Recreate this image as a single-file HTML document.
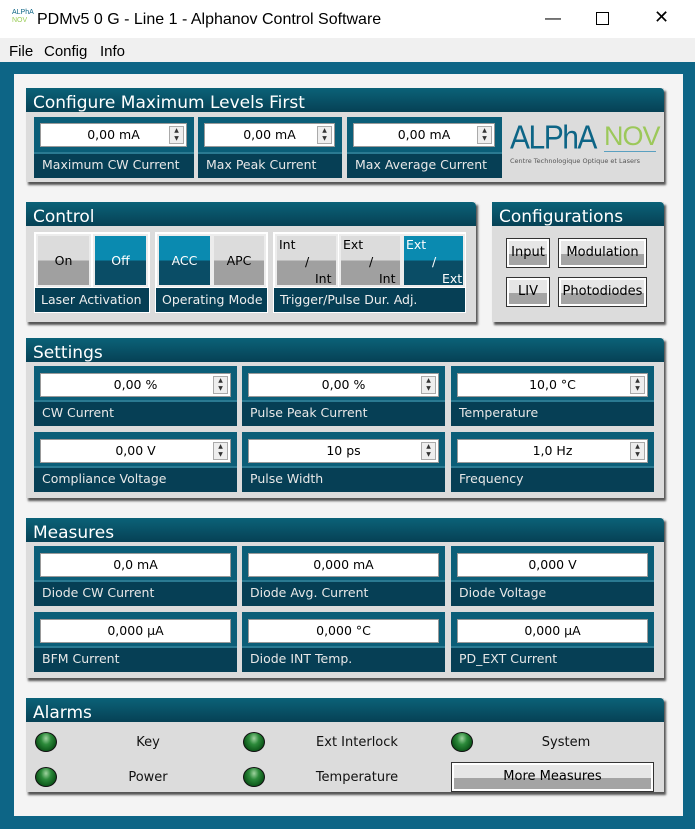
<!DOCTYPE html>
<html><head><meta charset="utf-8"><style>
*{box-sizing:border-box;margin:0;padding:0}
body{width:695px;height:829px;position:relative;overflow:hidden;background:#fff;font-family:"DejaVu Sans","Liberation Sans",sans-serif;}
.a{position:absolute}
.tb{left:0;top:0;width:695px;height:38px;background:#fff;font-family:"Liberation Sans",sans-serif;font-size:16px}
.menu{left:0;top:38px;width:695px;height:24px;background:#f0f0f0;font-family:"Liberation Sans",sans-serif;font-size:15px}
.frame{left:0;top:62px;width:695px;height:767px;background:#0d6586}
.inner{left:14px;top:74px;width:669px;height:742px;background:#f4f4f4}
.hd{background:linear-gradient(#0b6278,#064155);color:#fff;font-size:17px;padding-left:7px;line-height:30px;border-radius:0 4px 0 0;overflow:hidden}
.bd{background:#dcdcdc;box-shadow:2px 3px 2px #555}
.cell{background:#0b5e78;}
.cell .lb{position:absolute;left:0;right:0;bottom:0;height:26px;background:#063f55;color:#e8e8e8;font-size:12.5px;line-height:22px;padding-left:8px;border-top:2px solid #2a7a92}
.inp{position:absolute;background:#fff;border:1px solid #999;font-size:12.5px;text-align:center;line-height:22px;color:#000}
.spin{position:absolute;right:2px;top:2px;width:15px;height:18px;border:1px solid #aaa;background:#eee;font-size:6px;line-height:8px;text-align:center;color:#333}
.btn{position:absolute;font-size:12.5px;color:#000;text-align:center}
.g{background:linear-gradient(#dcdcdc 50%,#a0a0a0 50%);border:2px solid #ececec}
.b{background:linear-gradient(#0a8ab0 50%,#0a4d66 50%);border:2px solid #ececec;color:#fff}
.grp{position:absolute;background:#fff}
.cb{position:absolute;border:1px solid #333;background:#fff;padding:2px}
.cb div{width:100%;height:100%;background:linear-gradient(#e6e6e6 55%,#a4a4a4 55%);font-size:13px;text-align:center;line-height:24px}
.led{position:absolute;width:22px;height:20px;border-radius:50%;background:radial-gradient(ellipse at 50% 30%,#9fd39f 0,#2c8a3a 35%,#0f5a1c 70%,#062a0c 100%);border:1px solid #111}
.al{position:absolute;font-size:13px;color:#111;text-align:center;width:120px}
</style></head><body>
<div class="a tb">
 <div class="a" style="left:12px;top:9px;font-size:7px;line-height:8px;color:#0d6586">ALPhA<br><span style="color:#9c5">NOV</span></div>
 <div class="a" style="left:37px;top:11px">PDMv5 0 G - Line 1 - Alphanov Control Software</div>
 <div class="a" style="left:545px;top:10px">&#8212;</div>
 <div class="a" style="left:596px;top:12px;width:13px;height:13px;border:1px solid #000"></div>
 <div class="a" style="left:654px;top:7px;font-size:18px">&#10005;</div>
</div>
<div class="a menu"><span class="a" style="left:9px;top:5px">File</span><span class="a" style="left:44px;top:5px">Config</span><span class="a" style="left:100px;top:5px">Info</span></div>
<div class="a frame"></div>
<div class="a inner"></div>

<!-- Panel 1 -->
<div class="a bd" style="left:26px;top:88px;width:638px;height:94px"></div>
<div class="a hd" style="left:26px;top:88px;width:638px;height:24px">Configure Maximum Levels First</div>
<div class="a cell" style="left:34px;top:117px;width:160px;height:61px"><div class="inp" style="left:6px;top:6px;width:147px;height:24px">0,00 mA<div class="spin">▲<br>▼</div></div><div class="lb">Maximum CW Current</div></div>
<div class="a cell" style="left:198px;top:117px;width:144px;height:61px"><div class="inp" style="left:6px;top:6px;width:131px;height:24px">0,00 mA<div class="spin">▲<br>▼</div></div><div class="lb">Max Peak Current</div></div>
<div class="a cell" style="left:347px;top:117px;width:155px;height:61px"><div class="inp" style="left:6px;top:6px;width:142px;height:24px">0,00 mA<div class="spin">▲<br>▼</div></div><div class="lb">Max Average Current</div></div>
<div class="a" style="left:510px;top:120px;font-family:'Liberation Sans',sans-serif;font-size:30px;color:#0d6586;letter-spacing:-1.5px;transform:scaleY(1.1);transform-origin:top">ALPhA</div>
<div class="a" style="left:604px;top:121px;font-family:'Liberation Sans',sans-serif;font-size:27px;color:#9cc85a;letter-spacing:-1px">NOV</div>
<div class="a" style="left:604px;top:151px;width:52px;height:1px;background:#5aa0c0"></div>
<div class="a" style="left:510px;top:157px;font-size:6.5px;color:#555">Centre Technologique Optique et Lasers</div>

<!-- Control -->
<div class="a bd" style="left:26px;top:202px;width:450px;height:120px"></div>
<div class="a hd" style="left:26px;top:202px;width:450px;height:24px">Control</div>
<div class="grp" style="left:34px;top:232px;width:116px;height:81px"></div>
<div class="grp" style="left:155px;top:232px;width:113px;height:81px"></div>
<div class="grp" style="left:273px;top:232px;width:193px;height:81px"></div>
<div class="btn g" style="left:36px;top:234px;width:55px;height:53px;line-height:50px">On</div>
<div class="btn b" style="left:93px;top:234px;width:55px;height:53px;line-height:50px">Off</div>
<div class="btn b" style="left:157px;top:234px;width:55px;height:53px;line-height:50px">ACC</div>
<div class="btn g" style="left:212px;top:234px;width:54px;height:53px;line-height:50px">APC</div>
<div class="btn g" style="left:275px;top:234px;width:63px;height:53px;text-align:left;line-height:17px;padding-left:2px">Int<br><span style="padding-left:26px">/</span><br><span style="padding-left:36px">Int</span></div>
<div class="btn g" style="left:339px;top:234px;width:63px;height:53px;text-align:left;line-height:17px;padding-left:2px">Ext<br><span style="padding-left:26px">/</span><br><span style="padding-left:36px">Int</span></div>
<div class="btn b" style="left:402px;top:234px;width:63px;height:53px;text-align:left;line-height:17px;padding-left:2px">Ext<br><span style="padding-left:26px">/</span><br><span style="padding-left:36px">Ext</span></div>
<div class="a" style="left:35px;top:288px;width:114px;height:24px;background:#063f55;color:#eee;font-size:12.5px;line-height:24px;padding-left:6px">Laser Activation</div>
<div class="a" style="left:156px;top:288px;width:111px;height:24px;background:#063f55;color:#eee;font-size:12.5px;line-height:24px;padding-left:6px">Operating Mode</div>
<div class="a" style="left:274px;top:288px;width:191px;height:24px;background:#063f55;color:#eee;font-size:12.5px;line-height:24px;padding-left:6px">Trigger/Pulse Dur. Adj.</div>

<!-- Configurations -->
<div class="a bd" style="left:492px;top:202px;width:172px;height:120px"></div>
<div class="a hd" style="left:492px;top:202px;width:172px;height:24px">Configurations</div>
<div class="cb" style="left:506px;top:238px;width:44px;height:30px"><div>Input</div></div>
<div class="cb" style="left:558px;top:238px;width:89px;height:30px"><div>Modulation</div></div>
<div class="cb" style="left:506px;top:277px;width:44px;height:30px"><div>LIV</div></div>
<div class="cb" style="left:558px;top:277px;width:89px;height:30px"><div>Photodiodes</div></div>

<!-- Settings -->
<div class="a bd" style="left:26px;top:338px;width:638px;height:160px"></div>
<div class="a hd" style="left:26px;top:338px;width:638px;height:24px">Settings</div>
<div class="a cell" style="left:34px;top:366px;width:203px;height:60px"><div class="inp" style="left:6px;top:7px;width:191px;height:24px">0,00 %<div class="spin">▲<br>▼</div></div><div class="lb">CW Current</div></div>
<div class="a cell" style="left:242px;top:366px;width:203px;height:60px"><div class="inp" style="left:6px;top:7px;width:191px;height:24px">0,00 %<div class="spin">▲<br>▼</div></div><div class="lb">Pulse Peak Current</div></div>
<div class="a cell" style="left:451px;top:366px;width:203px;height:60px"><div class="inp" style="left:6px;top:7px;width:191px;height:24px">10,0 °C<div class="spin">▲<br>▼</div></div><div class="lb">Temperature</div></div>
<div class="a cell" style="left:34px;top:432px;width:203px;height:60px"><div class="inp" style="left:6px;top:7px;width:191px;height:24px">0,00 V<div class="spin">▲<br>▼</div></div><div class="lb">Compliance Voltage</div></div>
<div class="a cell" style="left:242px;top:432px;width:203px;height:60px"><div class="inp" style="left:6px;top:7px;width:191px;height:24px">10 ps<div class="spin">▲<br>▼</div></div><div class="lb">Pulse Width</div></div>
<div class="a cell" style="left:451px;top:432px;width:203px;height:60px"><div class="inp" style="left:6px;top:7px;width:191px;height:24px">1,0 Hz<div class="spin">▲<br>▼</div></div><div class="lb">Frequency</div></div>

<!-- Measures -->
<div class="a bd" style="left:26px;top:518px;width:638px;height:160px"></div>
<div class="a hd" style="left:26px;top:518px;width:638px;height:24px">Measures</div>
<div class="a cell" style="left:34px;top:546px;width:203px;height:60px"><div class="inp" style="left:6px;top:7px;width:191px;height:24px">0,0 mA</div><div class="lb">Diode CW Current</div></div>
<div class="a cell" style="left:242px;top:546px;width:203px;height:60px"><div class="inp" style="left:6px;top:7px;width:191px;height:24px">0,000 mA</div><div class="lb">Diode Avg. Current</div></div>
<div class="a cell" style="left:451px;top:546px;width:203px;height:60px"><div class="inp" style="left:6px;top:7px;width:191px;height:24px">0,000 V</div><div class="lb">Diode Voltage</div></div>
<div class="a cell" style="left:34px;top:612px;width:203px;height:60px"><div class="inp" style="left:6px;top:7px;width:191px;height:24px">0,000 µA</div><div class="lb">BFM Current</div></div>
<div class="a cell" style="left:242px;top:612px;width:203px;height:60px"><div class="inp" style="left:6px;top:7px;width:191px;height:24px">0,000 °C</div><div class="lb">Diode INT Temp.</div></div>
<div class="a cell" style="left:451px;top:612px;width:203px;height:60px"><div class="inp" style="left:6px;top:7px;width:191px;height:24px">0,000 µA</div><div class="lb">PD_EXT Current</div></div>

<!-- Alarms -->
<div class="a bd" style="left:26px;top:698px;width:638px;height:94px"></div>
<div class="a hd" style="left:26px;top:698px;width:638px;height:24px">Alarms</div>
<div class="led" style="left:35px;top:732px"></div>
<div class="led" style="left:243px;top:732px"></div>
<div class="led" style="left:451px;top:732px"></div>
<div class="led" style="left:35px;top:767px"></div>
<div class="led" style="left:243px;top:767px"></div>
<div class="al" style="left:88px;top:735px">Key</div>
<div class="al" style="left:297px;top:735px">Ext Interlock</div>
<div class="al" style="left:506px;top:735px">System</div>
<div class="al" style="left:88px;top:770px">Power</div>
<div class="al" style="left:297px;top:770px">Temperature</div>
<div class="cb" style="left:451px;top:762px;width:203px;height:30px"><div style="line-height:24px">More Measures</div></div>
</body></html>
